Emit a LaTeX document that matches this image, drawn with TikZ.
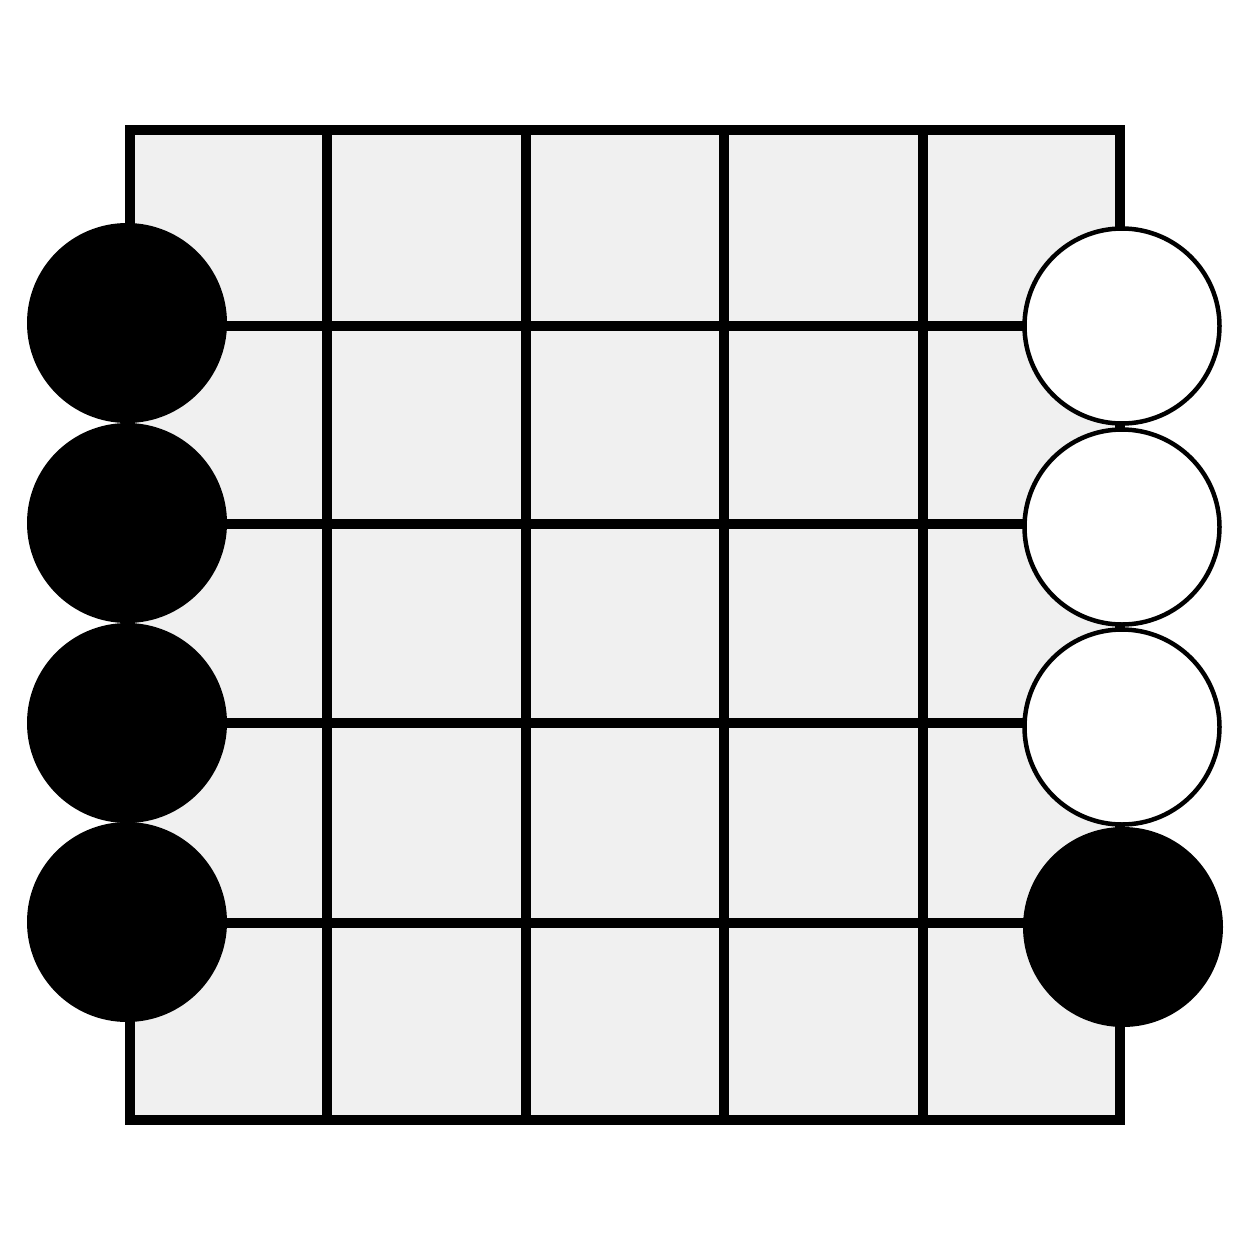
\documentclass[tikz,border=0pt]{standalone}
\usepackage{xcolor}
\usepackage{tikz}
\definecolor{boardgray}{HTML}{F0F0F0}
\tikzstyle{gridline} = [line width=10.5pt]
\tikzstyle{bstone} = [fill=black]
\tikzstyle{wstone} = [draw=black, fill=white, line width=4.5pt]

\begin{document}
\begin{tikzpicture}[yscale=-1]
			\useasboundingbox (0pt,0pt) rectangle (1250pt,1250pt);
			% board
			\fill[boardgray] (130pt,130pt) rectangle (1120pt,1120pt);
			\draw[gridline] (327pt,130pt) -- (327pt,1120pt);
			\draw[gridline] (526pt,130pt) -- (526pt,1120pt);
			\draw[gridline] (724pt,130pt) -- (724pt,1120pt);
			\draw[gridline] (923pt,130pt) -- (923pt,1120pt);
			\draw[gridline] (130pt,326pt) -- (1120pt,326pt);
			\draw[gridline] (130pt,524pt) -- (1120pt,524pt);
			\draw[gridline] (130pt,723pt) -- (1120pt,723pt);
			\draw[gridline] (130pt,923pt) -- (1120pt,923pt);
			\draw[gridline] (130pt,130pt) rectangle (1120pt,1120pt);
			% left stones
			\fill[bstone] (127pt,323pt) circle (100pt);
			\fill[bstone] (127pt,523pt) circle (100pt);
			\fill[bstone] (127pt,723pt) circle (100pt);
			\fill[bstone] (127pt,922pt) circle (100pt);
			% right stones
			\draw[wstone] (1122pt,326pt) circle (97.5pt);
			\draw[wstone] (1122pt,527pt) circle (97.5pt);
			\draw[wstone] (1122pt,727pt) circle (97.5pt);
			\fill[bstone] (1123pt,927pt) circle (100pt);
		\end{tikzpicture}
\end{document}
